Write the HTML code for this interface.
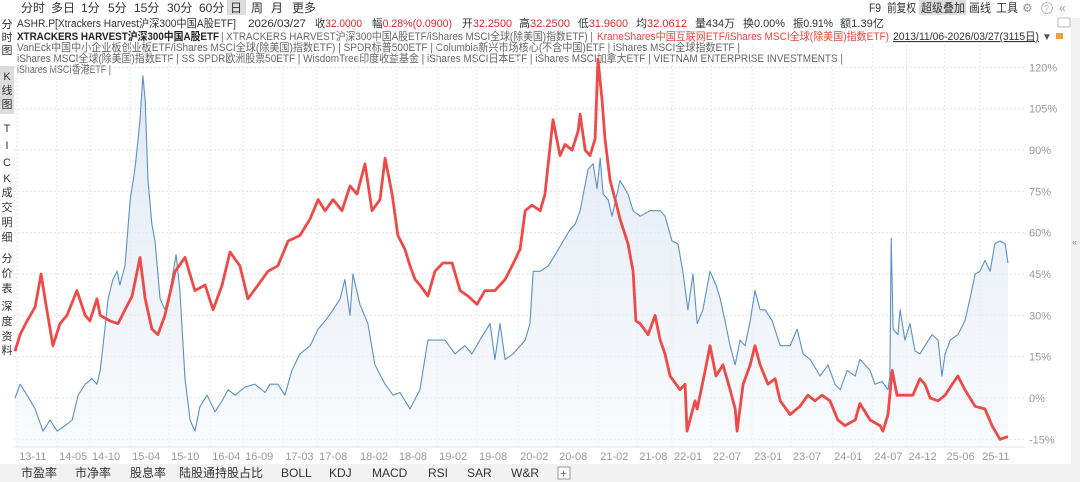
<!DOCTYPE html>
<html><head><meta charset="utf-8"><style>
html,body{margin:0;padding:0;background:#fff;}
svg{display:block;font-family:"Liberation Sans","Noto Sans CJK SC",sans-serif;}
</style></head><body>
<svg id="chart" width="1080" height="482" viewBox="0 0 1080 482">
<defs>
<linearGradient id="bfill" x1="0" y1="0" x2="0" y2="1">
<stop offset="0" stop-color="#d4e1f0" stop-opacity="0.75"/>
<stop offset="1" stop-color="#f4f7fb" stop-opacity="0.6"/>
</linearGradient>
</defs>
<g font-size="12" fill="#333">
<rect x="227" y="0" width="19" height="15" fill="#dcdcdc"/>
<text x="21" y="12">分时</text>
<text x="51" y="12">多日</text>
<text x="81" y="12">1分</text>
<text x="108" y="12">5分</text>
<text x="134" y="12">15分</text>
<text x="167" y="12">30分</text>
<text x="199" y="12">60分</text>
<text x="230" y="12">日</text>
<text x="251" y="12">周</text>
<text x="271" y="12">月</text>
<text x="292" y="12">更多</text>
<rect x="919" y="0" width="47" height="15" fill="#dcdcdc"/>
<text x="869" y="12" textLength="12" lengthAdjust="spacingAndGlyphs">F9</text>
<text x="887" y="12" textLength="29" lengthAdjust="spacingAndGlyphs">前复权</text>
<text x="921" y="12" textLength="44" lengthAdjust="spacingAndGlyphs">超级叠加</text>
<text x="969" y="12" textLength="22" lengthAdjust="spacingAndGlyphs">画线</text>
<text x="996" y="12" textLength="22" lengthAdjust="spacingAndGlyphs">工具</text>
<text x="1022" y="12" fill="#999">⚙</text>
<circle cx="1047" cy="8" r="5.5" fill="none" stroke="#bbb"/>
<text x="1044" y="11.5" font-size="9" fill="#bbb">?</text>
<text x="1059" y="12" fill="#999">«</text>
</g>
<g font-size="11" fill="#333">
<text x="17" y="27" textLength="219" lengthAdjust="spacingAndGlyphs">ASHR.P[Xtrackers Harvest沪深300中国A股ETF]</text>
<text x="248" y="27" textLength="58" lengthAdjust="spacingAndGlyphs">2026/03/27</text>
<text x="315" y="27" textLength="47" lengthAdjust="spacingAndGlyphs">收<tspan fill="#e8262a">32.0000</tspan></text>
<text x="372" y="27" textLength="80" lengthAdjust="spacingAndGlyphs">幅<tspan fill="#e8262a">0.28%(0.0900)</tspan></text>
<text x="462" y="27" textLength="50" lengthAdjust="spacingAndGlyphs">开<tspan fill="#e8262a">32.2500</tspan></text>
<text x="519" y="27" textLength="51" lengthAdjust="spacingAndGlyphs">高<tspan fill="#e8262a">32.2500</tspan></text>
<text x="578" y="27" textLength="50" lengthAdjust="spacingAndGlyphs">低<tspan fill="#e8262a">31.9600</tspan></text>
<text x="636" y="27" textLength="51" lengthAdjust="spacingAndGlyphs">均<tspan fill="#e8262a">32.0612</tspan></text>
<text x="695" y="27" textLength="40" lengthAdjust="spacingAndGlyphs">量434万</text>
<text x="743" y="27" textLength="42" lengthAdjust="spacingAndGlyphs">换0.00%</text>
<text x="793" y="27" textLength="40" lengthAdjust="spacingAndGlyphs">振0.91%</text>
<text x="840" y="27" textLength="44" lengthAdjust="spacingAndGlyphs">额1.39亿</text>
<rect x="1058" y="18" width="12" height="9" fill="none" stroke="#bbb"/>
</g>
<g font-size="11" fill="#666">
<text x="17" y="40" font-weight="bold" fill="#222" textLength="202" lengthAdjust="spacingAndGlyphs">XTRACKERS HARVEST沪深300中国A股ETF</text>
<text x="221" y="40" textLength="372" lengthAdjust="spacingAndGlyphs">| XTRACKERS HARVEST沪深300中国A股ETF/iShares MSCI全球(除美国)指数ETF) |</text>
<text x="597" y="40" fill="#e8463f" textLength="292" lengthAdjust="spacingAndGlyphs">KraneShares中国互联网ETF/iShares MSCI全球(除美国)指数ETF)</text>
<text x="893" y="40" fill="#333" text-decoration="underline" textLength="146" lengthAdjust="spacingAndGlyphs">2013/11/06-2026/03/27(3115日)</text>
<text x="1042" y="40" font-size="10" fill="#555">▼</text>
<rect x="1056" y="33" width="7" height="6" fill="#f0a030"/>
<text x="17" y="51" textLength="723" lengthAdjust="spacingAndGlyphs">VanEck中国中小企业板创业板ETF/iShares MSCI全球(除美国)指数ETF) | SPDR标普500ETF | Columbia新兴市场核心(不含中国)ETF | iShares MSCI全球指数ETF |</text>
<text x="17" y="62" textLength="826" lengthAdjust="spacingAndGlyphs">iShares MSCI全球(除美国)指数ETF | SS SPDR欧洲股票50ETF | WisdomTree印度收益基金 | iShares MSCI日本ETF | iShares MSCI加拿大ETF | VIETNAM ENTERPRISE INVESTMENTS |</text>
<text x="17" y="73" textLength="94" lengthAdjust="spacingAndGlyphs">iShares MSCI香港ETF |</text>
</g>
<g font-size="11" fill="#333" text-anchor="middle">
<rect x="0" y="66" width="14" height="48" fill="#dcdcdc"/>
<text x="7" y="28">分</text>
<text x="7" y="41">时</text>
<text x="7" y="54">图</text>
<text x="7" y="80">K</text>
<text x="7" y="94">线</text>
<text x="7" y="108">图</text>
<text x="7" y="132">T</text>
<text x="7" y="149">I</text>
<text x="7" y="166">C</text>
<text x="7" y="182">K</text>
<text x="7" y="196">成</text>
<text x="7" y="211">交</text>
<text x="7" y="226">明</text>
<text x="7" y="241">细</text>
<text x="7" y="262">分</text>
<text x="7" y="277">价</text>
<text x="7" y="292">表</text>
<text x="7" y="310">深</text>
<text x="7" y="325">度</text>
<text x="7" y="340">资</text>
<text x="7" y="354">料</text>
</g>
<rect x="1071" y="18" width="9" height="446" fill="#f0f0f0"/>
<text x="1072" y="245" font-size="9" fill="#888">«</text>
<g id="grid"></g>
<g id="series"></g>
<g id="axes"></g>
<line x1="14" y1="447" x2="1025" y2="447" stroke="#e6e6e6"/>
<g font-size="12" fill="#333">
<rect x="0" y="464" width="1080" height="18" fill="#f2f2f2"/>
<text x="21" y="477">市盈率</text>
<text x="75" y="477">市净率</text>
<text x="130" y="477">股息率</text>
<text x="179" y="477">陆股通持股占比</text>
<text x="281" y="477">BOLL</text>
<text x="329" y="477">KDJ</text>
<text x="372" y="477">MACD</text>
<text x="428" y="477">RSI</text>
<text x="467" y="477">SAR</text>
<text x="511" y="477">W&amp;R</text>
<rect x="558" y="467" width="12" height="12" fill="#fff" stroke="#999"/>
<text x="560" y="477.5" font-size="12" fill="#777">+</text>
</g>
</svg>
<script>
const totalDays = 3115;
const yTicks = [-15,0,15,30,45,60,75,90,105,120];
const xTickLabels = ["13-11","14-05","14-10","15-04","15-10","16-04","16-09","17-03","17-08","18-02","18-08","19-02","19-08","20-02","20-08","21-02","21-08","22-01","22-07","23-01","23-07","24-01","24-07","24-12","25-06","25-11"];
const xTickDays = [10,135,238,364,486,615,718,844,950,1078,1200,1326,1451,1580,1702,1831,1953,2062,2184,2313,2435,2564,2690,2797,2916,3028];
const redDays = [3,19,41,66,85,97,122,144,166,197,223,238,260,270,301,326,348,370,395,411,432,451,473,505,536,567,599,624,652,677,708,733,765,796,827,859,896,928,953,975,1000,1028,1053,1075,1100,1122,1147,1163,1185,1203,1225,1241,1257,1272,1297,1319,1344,1373,1398,1423,1451,1476,1507,1539,1561,1586,1602,1623,1649,1664,1674,1689,1711,1727,1749,1768,1774,1790,1805,1821,1830,1843,1852,1868,1884,1899,1924,1940,1949,1962,1987,2009,2025,2040,2056,2087,2103,2109,2134,2141,2166,2181,2200,2222,2244,2260,2266,2285,2307,2322,2338,2363,2385,2401,2432,2463,2488,2510,2532,2557,2582,2604,2636,2651,2683,2714,2723,2739,2752,2767,2792,2817,2839,2855,2871,2896,2918,2940,2958,2980,3012,3043,3065,3090,3115];
const redValues = [17,23,28,33,45,36,19,27,30,39,30,28,36,30,28,27,32,37,51,36,25,23,30,46,51,39,41,32,41,53,48,36,41,46,48,57,59,65,72,68,72,68,77,74,85,68,72,87,74,59,54,48,43,41,37,46,49,49,39,37,34,39,39,43,48,54,68,70,68,74,85,101,88,92,90,97,103,90,88,94,123,108,94,79,72,65,56,46,28,27,23,30,21,16,8,3,5,-12,-1,-4,10,19,8,12,3,-4,-12,5,12,19,12,5,7,-1,-6,-3,1,-1,1,-1,-8,-10,-8,-2,-8,-10,-12,-6,10,1,1,1,7,5,0,-1,1,5,8,3,-3,-4,-10,-15,-14];
const blueDays = [3,19,41,66,91,113,135,160,182,201,223,244,260,270,285,295,310,323,332,348,364,379,389,395,404,411,420,432,442,458,473,489,508,520,536,552,567,583,605,630,652,671,693,724,755,787,802,827,849,871,896,928,953,975,1000,1022,1037,1053,1062,1084,1109,1131,1163,1188,1210,1241,1272,1297,1319,1351,1382,1413,1435,1460,1492,1507,1523,1539,1564,1602,1617,1627,1649,1674,1696,1721,1742,1758,1774,1799,1815,1827,1837,1846,1862,1874,1899,1924,1940,1962,1993,2025,2040,2062,2081,2097,2112,2128,2141,2159,2181,2200,2213,2228,2244,2260,2275,2291,2307,2322,2338,2354,2376,2401,2432,2454,2473,2495,2526,2551,2573,2589,2611,2636,2651,2683,2698,2720,2739,2745,2749,2755,2770,2777,2792,2808,2824,2839,2855,2877,2896,2908,2918,2934,2958,2980,2996,3012,3027,3043,3059,3074,3090,3106,3115];
const blueValues = [0,5,1,-4,-12,-8,-12,-10,-8,1,5,7,5,10,25,36,43,46,41,48,72,83,94,101,117,108,79,63,57,36,32,39,52,39,7,-8,-12,-3,1,-5,-1,3,1,4,5,2,5,5,1,10,16,19,25,28,32,36,43,30,45,34,27,12,5,1,2,-4,3,21,21,21,16,19,16,21,27,14,27,14,16,21,27,46,46,48,52,57,61,63,68,83,85,76,87,74,72,66,79,74,68,66,68,68,66,57,56,45,32,45,27,32,46,41,36,28,19,12,21,19,28,39,32,32,28,19,19,25,16,14,8,12,5,3,10,8,14,10,5,6,3,8,58,25,23,32,21,27,17,16,19,23,21,8,16,21,23,28,36,45,46,50,46,56,57,56,49];

const NS = 'http://www.w3.org/2000/svg';
const plotL = 14, plotR = 1008, gridR = 1025;
function xScale(d){ return plotL + d * (plotR - plotL) / totalDays; }
function yScale(v){ return 398 - v * 2.755; }
const grid = document.getElementById('grid');
const axes = document.getElementById('axes');
const series = document.getElementById('series');

yTicks.forEach(function(t){
  const ln = document.createElementNS(NS,'line');
  ln.setAttribute('x1', plotL); ln.setAttribute('x2', gridR);
  ln.setAttribute('y1', yScale(t)); ln.setAttribute('y2', yScale(t));
  ln.setAttribute('stroke','#e2e2e2'); ln.setAttribute('stroke-dasharray','2,2');
  
  
  grid.appendChild(ln);
  const tx = document.createElementNS(NS,'text');
  tx.setAttribute('x', 1029); tx.setAttribute('y', yScale(t) + 4);
  tx.setAttribute('font-size','11'); tx.setAttribute('fill','#999');
  tx.textContent = t + '%';
  
  
  axes.appendChild(tx);
});
xTickLabels.forEach(function(lab, i){
  const x = xScale(xTickDays[i]);
  const ln = document.createElementNS(NS,'line');
  ln.setAttribute('x1', x); ln.setAttribute('x2', x);
  ln.setAttribute('y1', 45); ln.setAttribute('y2', 447);
  ln.setAttribute('stroke','#e6e6e6'); ln.setAttribute('stroke-dasharray','2,2');
  
  
  grid.appendChild(ln);
  const tx = document.createElementNS(NS,'text');
  tx.setAttribute('x', x + 2); tx.setAttribute('y', 460);
  tx.setAttribute('font-size','11'); tx.setAttribute('fill','#999');
  tx.textContent = lab;
  
  
  axes.appendChild(tx);
});

function pathFrom(days, vals){
  let d = '';
  for (let i = 0; i < days.length; i++){
    d += (i ? 'L' : 'M') + xScale(days[i]).toFixed(1) + ',' + yScale(vals[i]).toFixed(1);
  }
  return d;
}
const bLine = pathFrom(blueDays, blueValues);
const area = document.createElementNS(NS,'path');
area.setAttribute('d', bLine + 'L' + xScale(blueDays[blueDays.length-1]).toFixed(1) + ',447L' + xScale(blueDays[0]).toFixed(1) + ',447Z');
area.setAttribute('fill','url(#bfill)');


series.appendChild(area);
const bPath = document.createElementNS(NS,'path');
bPath.setAttribute('d', bLine);
bPath.setAttribute('fill','none'); bPath.setAttribute('stroke','#5a90c8'); bPath.setAttribute('stroke-width','1.1');
bPath.setAttribute('stroke-linejoin','round');


series.appendChild(bPath);
const rPath = document.createElementNS(NS,'path');
rPath.setAttribute('d', pathFrom(redDays, redValues));
rPath.setAttribute('fill','none'); rPath.setAttribute('stroke','#ee4a47'); rPath.setAttribute('stroke-width','2.8');
rPath.setAttribute('stroke-linejoin','round');


series.appendChild(rPath);
</script>
</body></html>
